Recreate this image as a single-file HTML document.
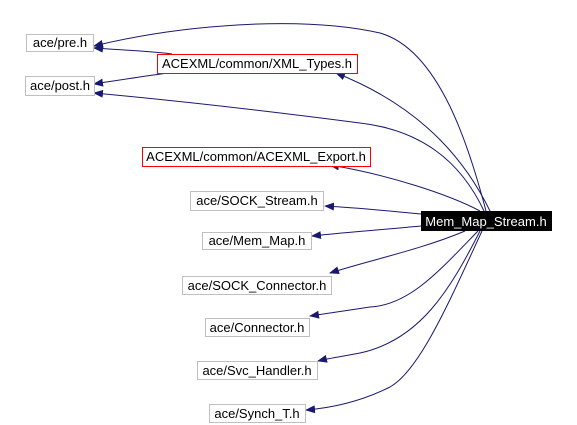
<!DOCTYPE html>
<html><head><style>
body{margin:0;background:#fff;}
svg{display:block;}
text{font-family:"Liberation Sans",Helvetica,sans-serif;font-size:13px;}
</style></head><body>
<svg width="577" height="425" viewBox="0 0 577 425">
<defs><marker id="a" markerWidth="10" markerHeight="8" refX="9" refY="4" orient="auto" markerUnits="userSpaceOnUse"><path d="M0,0 L10,4 L0,8 Z" fill="#191970"/></marker></defs>
<g fill="none" stroke="#191970" stroke-width="1" marker-end="url(#a)">
<path d="M486,211 C470,150 440,50 380,33 C300,15 180,25 94,46"/>
<path d="M172,54 C150,51 120,50 94,48"/>
<path d="M168,73 C145,76 120,80 94,84"/>
<path d="M490,211 C470,170 430,110 336,73"/>
<path d="M484,211 C460,160 420,130 360,123 C260,110 170,100 94,93"/>
<path d="M480,211 C450,195 390,175 330,165"/>
<path d="M421,214 C380,210 360,208 325,206"/>
<path d="M421,226 C390,229 350,232 312,236"/>
<path d="M465,231 C420,250 370,260 330,273"/>
<path d="M478,231 C440,270 410,305 370,307 C350,310 330,313 310,316"/>
<path d="M480,231 C450,290 420,340 360,353 C345,356 330,358 318,361"/>
<path d="M482,231 C450,300 420,370 390,387 C360,402 330,408 306,410"/>
</g>
<g stroke="#bfbfbf" fill="#fff">
<rect x="26.5" y="34.5" width="67" height="17"/>
<rect x="25.5" y="76.5" width="69" height="19"/>
<rect x="190.5" y="191.5" width="133" height="19"/>
<rect x="202.5" y="232.5" width="109" height="17"/>
<rect x="182.5" y="276.5" width="149" height="18"/>
<rect x="205.5" y="318.5" width="104" height="18"/>
<rect x="197.5" y="361.5" width="120" height="18"/>
<rect x="209.5" y="404.5" width="96" height="18"/>
</g>
<g stroke="#ff0000" fill="#fff">
<rect x="157.5" y="54.5" width="200" height="19"/>
<rect x="142.5" y="147.5" width="228" height="19"/>
</g>
<rect x="421" y="211" width="131" height="20" fill="#000"/>
<g fill="#000" text-anchor="middle">
<text x="60" y="47">ace/pre.h</text>
<text x="60" y="90">ace/post.h</text>
<text x="257" y="68">ACEXML/common/XML_Types.h</text>
<text x="256" y="161">ACEXML/common/ACEXML_Export.h</text>
<text x="257" y="205">ace/SOCK_Stream.h</text>
<text x="257" y="245">ace/Mem_Map.h</text>
<text x="257" y="290">ace/SOCK_Connector.h</text>
<text x="257" y="332">ace/Connector.h</text>
<text x="257" y="375">ace/Svc_Handler.h</text>
<text x="257" y="418">ace/Synch_T.h</text>
<text x="486" y="226" fill="#fff">Mem_Map_Stream.h</text>
</g>
</svg>
</body></html>
